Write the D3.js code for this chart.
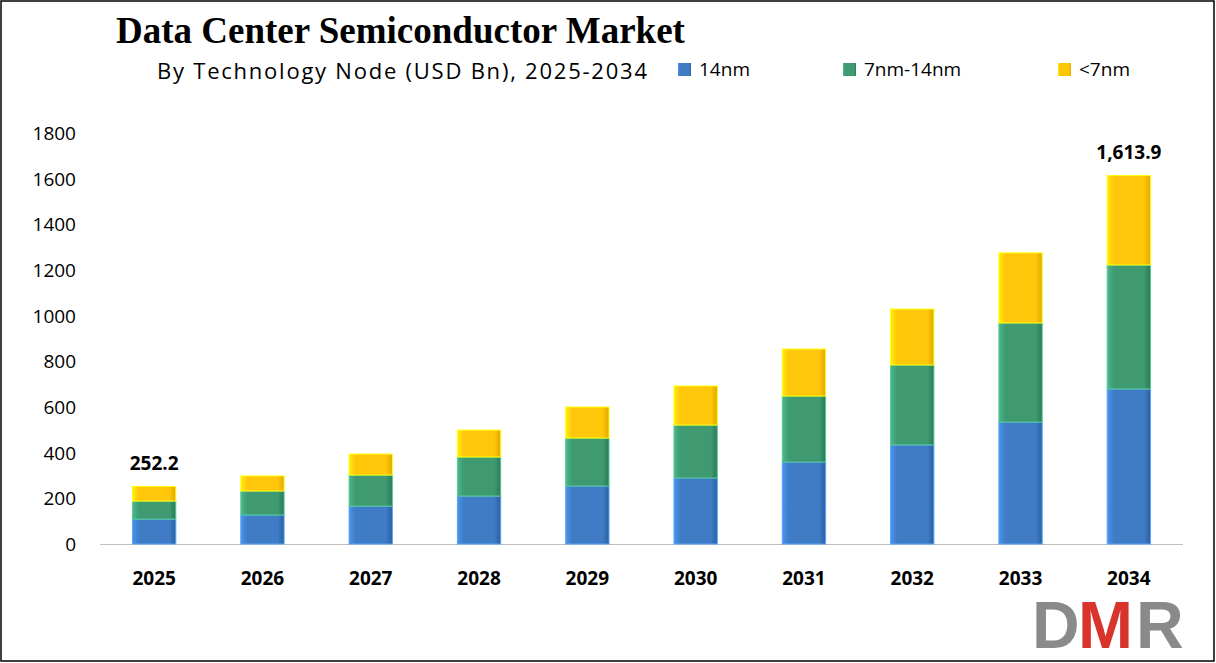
<!DOCTYPE html>
<html><head><meta charset="utf-8">
<script src="https://cdn.jsdelivr.net/npm/d3@7"></script>
<style>body{margin:0;background:#fff}svg{display:block}</style>
</head><body><svg id="c" width="1216" height="663"></svg>
<script>
const years = ["2025","2026","2027","2028","2029","2030","2031","2032","2033","2034"];
const nm14 = [109,127,166,210,254,289,359,434,534,679];
const nm7to14 = [79,105,136,171,210,232,289,350,434,543];
const nmUnder7 = [64,66,92,118,136,171,206,245,307,392];
const seriesNames = ["14nm","7nm-14nm","<7nm"];
const yTicks = [0,200,400,600,800,1000,1200,1400,1600,1800];
const totalLabels = {"2025":"252.2","2034":"1,613.9"};

const colors = ["#3f7cc5","#3f9a72","#ffc60a"];
const dark = ["#2c5f9e","#2a7a55","#e0a800"];
const svg = d3.select("#c");
svg.append("rect").attr("x",1).attr("y",1).attr("width",1213).attr("height",660).attr("fill","#fff").attr("stroke","#000").attr("stroke-width",1.5);
const defs = svg.append("defs");
colors.forEach((c,i)=>{
  const g = defs.append("linearGradient").attr("id","g"+i).attr("x1","0").attr("x2","1");
  g.append("stop").attr("offset","0").attr("stop-color",d3.color(c).brighter(0.5));
  g.append("stop").attr("offset","0.15").attr("stop-color",c);
  g.append("stop").attr("offset","0.85").attr("stop-color",c);
  g.append("stop").attr("offset","1").attr("stop-color",dark[i]);
});
const x = d3.scaleBand().domain(years).range([100,1183]).paddingInner(0.6).paddingOuter(0.3);
const y = d3.scaleLinear().domain([0,1800]).range([544,133]);
const font = "'Open Sans', 'Noto Sans', Arial, sans-serif";
svg.append("g").selectAll("text").data(yTicks).join("text")
  .attr("x",76).attr("y",d=>y(d)+7).attr("text-anchor","end")
  .attr("font-family",font).attr("font-size",19).attr("fill","#000").text(d=>d);
svg.append("line").attr("x1",100).attr("x2",1183).attr("y1",544.5).attr("y2",544.5).attr("stroke","#bfbfbf");
const stackData = years.map((yr,i)=>({year:yr, a:nm14[i], b:nm7to14[i], c:nmUnder7[i]}));
const stack = d3.stack().keys(["a","b","c"])(stackData);
stack.forEach((s,si)=>{
  svg.append("g").selectAll("rect").data(s).join("rect")
    .attr("x",d=>x(d.data.year)).attr("width",x.bandwidth())
    .attr("y",d=>y(d[1])).attr("height",d=>y(d[0])-y(d[1]))
    .attr("fill","url(#g"+si+")").attr("stroke",d3.color(colors[si]).brighter(0.8)).attr("stroke-width",1);
});
svg.append("g").selectAll("text").data(years).join("text")
  .attr("x",d=>x(d)+x.bandwidth()/2).attr("y",585).attr("text-anchor","middle")
  .attr("font-family",font).attr("font-weight","bold").attr("font-size",19).text(d=>d);
stackData.forEach(d=>{
  if(totalLabels[d.year]) svg.append("text").attr("x",x(d.year)+x.bandwidth()/2)
    .attr("y",y(d.a+d.b+d.c)-16).attr("text-anchor","middle").attr("font-family",font)
    .attr("font-weight","bold").attr("font-size",19).text(totalLabels[d.year]);
});
svg.append("text").attr("x",116).attr("y",43).attr("font-family","'Liberation Serif','Times New Roman',serif")
  .attr("font-weight","bold").attr("font-size",37).text("Data Center Semiconductor Market");
svg.append("text").attr("x",157).attr("y",79).attr("font-family",font).attr("font-size",22)
  .attr("textLength",490).attr("lengthAdjust","spacing").text("By Technology Node (USD Bn), 2025-2034");
const lx=[678,843,1058];
seriesNames.forEach((n,i)=>{
  svg.append("rect").attr("x",lx[i]).attr("y",63).attr("width",13).attr("height",13).attr("fill","url(#g"+i+")");
  svg.append("text").attr("x",lx[i]+21).attr("y",76).attr("font-family",font).attr("font-size",19).text(n);
});
const lg = svg.append("g").attr("font-family","'Liberation Sans',Arial,sans-serif").attr("font-weight","bold").attr("font-size",66);
lg.append("text").attr("x",1032).attr("y",648).attr("fill","#8a8a8a").text("D");
lg.append("text").attr("x",1078).attr("y",648).attr("fill","#d9342b").text("M");
lg.append("text").attr("x",1136).attr("y",648).attr("fill","#8a8a8a").text("R");
</script></body></html>
